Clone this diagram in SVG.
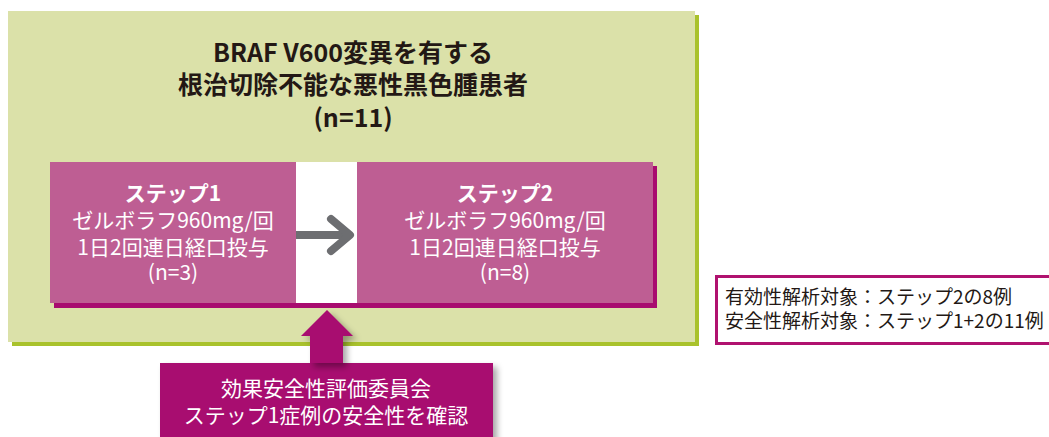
<svg xmlns="http://www.w3.org/2000/svg" width="1049" height="437" viewBox="0 0 1049 437">
<style>
.t{font-family:"Noto Sans CJK JP","Noto Sans",sans-serif;text-anchor:middle}
.title{font-size:25px;font-weight:700;fill:#231815}
.st{font-size:21px;fill:#ffffff}
.b{font-weight:700}
.note{font-family:"Noto Sans CJK JP","Noto Sans",sans-serif;font-size:19px;fill:#231815}
</style>
<defs>
<filter id="sh" x="-20%" y="-20%" width="150%" height="150%">
<feDropShadow dx="4" dy="4" stdDeviation="3" flood-color="#000" flood-opacity="0.35"/>
</filter>
</defs>
<g id="population">
<rect x="12" y="15" width="687" height="331" fill="#a9c22c"/>
<rect x="8" y="11" width="687" height="331" fill="#dbe1a9"/>
<text class="t title" x="353" y="62">BRAF V600変異を有する</text>
<text class="t title" x="353" y="94">根治切除不能な悪性黒色腫患者</text>
<text class="t title" x="353" y="127">(n=11)</text>
</g>
<g id="steps-band">
<rect x="54" y="166" width="603" height="142" fill="#a80c6f"/>
<rect x="50" y="162" width="603" height="141" fill="#be5e93"/>
<rect x="296" y="162" width="61" height="141" fill="#ffffff"/>
</g>
<g id="step1">
<text class="t st b" x="173" y="201">ステップ1</text>
<text class="t st" x="173" y="228">ゼルボラフ960mg/回</text>
<text class="t st" x="173" y="255">1日2回連日経口投与</text>
<text class="t st" x="173" y="280">(n=3)</text>
</g>
<g id="step2">
<text class="t st b" x="505" y="201">ステップ2</text>
<text class="t st" x="505" y="228">ゼルボラフ960mg/回</text>
<text class="t st" x="505" y="255">1日2回連日経口投与</text>
<text class="t st" x="505" y="280">(n=8)</text>
</g>
<g id="committee">
<rect x="160" y="363" width="333" height="80" fill="#a80c6f" filter="url(#sh)"/>
<text class="t st" x="326" y="396" fill="#fbeaf3">効果安全性評価委員会</text>
<text class="t st" x="326" y="423" fill="#fbeaf3">ステップ1症例の安全性を確認</text>
</g>
<g id="note">
<rect x="716.5" y="276.5" width="340" height="67" fill="#ffffff" stroke="#b0126f" stroke-width="3"/>
<text class="note" x="725" y="304">有効性解析対象：ステップ2の8例</text>
<text class="note" x="725" y="328">安全性解析対象：ステップ1+2の11例</text>
</g>
<g id="connectors">
<path d="M296 235 H348" stroke="#6d6e71" stroke-width="8" fill="none"/>
<path d="M331 219 L350 235 L331 251" stroke="#6d6e71" stroke-width="8" fill="none" stroke-linecap="round" stroke-linejoin="round"/>
<polygon points="327,310 353,336 343,336 343,363 310,363 310,336 301,336" fill="#a80c6f" filter="url(#sh)"/>
</g>
</svg>
